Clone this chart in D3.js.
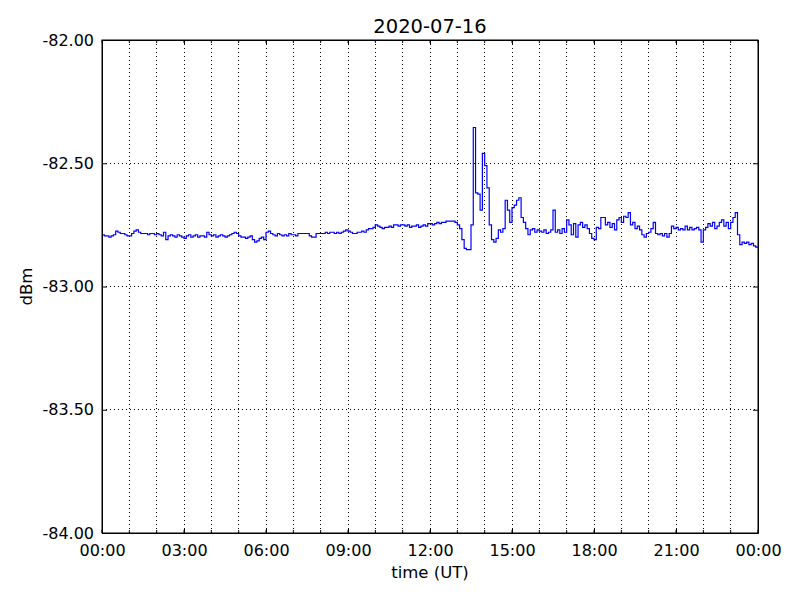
<!DOCTYPE html>
<html>
<head>
<meta charset="utf-8">
<script src="https://cdn.jsdelivr.net/npm/d3@7"></script>
<style>
  body { margin: 0; background: #fff; }
  text { font-family: "DejaVu Sans", sans-serif; fill: #000; }
</style>
</head>
<body>
<div id="chart-area"></div>
<script>
// signal level, one value every 5 minutes, 2020-07-16
const day = "2020-07-16"
const stepMinutes = 5
const dbm = [
  -82.79,-82.795,-82.795,-82.80,-82.795,-82.79,-82.775,-82.78,-82.785,-82.785,-82.79,-82.795,
  -82.795,-82.785,-82.775,-82.77,-82.78,-82.785,-82.785,-82.785,-82.79,-82.785,-82.785,-82.79,
  -82.785,-82.79,-82.795,-82.78,-82.81,-82.795,-82.79,-82.795,-82.80,-82.79,-82.795,-82.80,
  -82.805,-82.795,-82.79,-82.80,-82.795,-82.79,-82.80,-82.795,-82.795,-82.80,-82.78,-82.79,
  -82.795,-82.79,-82.80,-82.795,-82.79,-82.795,-82.80,-82.795,-82.79,-82.785,-82.78,-82.785,
  -82.795,-82.80,-82.80,-82.805,-82.80,-82.795,-82.81,-82.82,-82.815,-82.805,-82.80,-82.81,
  -82.78,-82.775,-82.785,-82.79,-82.795,-82.785,-82.79,-82.795,-82.79,-82.795,-82.785,-82.79,
  -82.79,-82.795,-82.785,-82.785,-82.785,-82.785,-82.785,-82.795,-82.80,-82.80,-82.785,-82.785,
  -82.785,-82.785,-82.78,-82.785,-82.78,-82.78,-82.785,-82.78,-82.785,-82.78,-82.775,-82.77,
  -82.775,-82.78,-82.785,-82.785,-82.78,-82.78,-82.775,-82.78,-82.77,-82.765,-82.765,-82.76,
  -82.75,-82.755,-82.76,-82.765,-82.76,-82.76,-82.755,-82.76,-82.75,-82.75,-82.755,-82.75,
  -82.75,-82.755,-82.75,-82.76,-82.755,-82.755,-82.75,-82.76,-82.755,-82.75,-82.755,-82.745,
  -82.745,-82.75,-82.745,-82.74,-82.745,-82.74,-82.74,-82.735,-82.735,-82.735,-82.735,-82.74,
  -82.75,-82.765,-82.81,-82.845,-82.85,-82.85,-82.75,-82.355,-82.62,-82.625,-82.69,-82.46,
  -82.51,-82.60,-82.75,-82.81,-82.82,-82.805,-82.77,-82.78,-82.765,-82.65,-82.69,-82.74,
  -82.68,-82.67,-82.65,-82.64,-82.72,-82.74,-82.765,-82.79,-82.77,-82.765,-82.78,-82.77,
  -82.775,-82.78,-82.77,-82.785,-82.78,-82.77,-82.69,-82.78,-82.77,-82.785,-82.765,-82.78,
  -82.73,-82.75,-82.79,-82.745,-82.80,-82.75,-82.74,-82.76,-82.75,-82.765,-82.785,-82.805,
  -82.81,-82.76,-82.765,-82.72,-82.72,-82.75,-82.74,-82.76,-82.745,-82.77,-82.73,-82.72,
  -82.74,-82.715,-82.72,-82.70,-82.75,-82.74,-82.765,-82.755,-82.77,-82.79,-82.80,-82.785,
  -82.78,-82.765,-82.74,-82.785,-82.79,-82.785,-82.795,-82.785,-82.80,-82.785,-82.755,-82.765,
  -82.76,-82.77,-82.765,-82.77,-82.755,-82.77,-82.76,-82.77,-82.765,-82.76,-82.77,-82.82,
  -82.77,-82.76,-82.745,-82.755,-82.74,-82.765,-82.755,-82.74,-82.73,-82.755,-82.74,-82.765,
  -82.74,-82.72,-82.70,-82.79,-82.83,-82.82,-82.825,-82.82,-82.83,-82.825,-82.835,-82.84
]
const yTicks = [-84, -83.5, -83, -82.5, -82]

const width = 800, height = 600
const margin = { top: 40, right: 42, bottom: 67, left: 102 }

const start = new Date(day + "T00:00:00Z")
const end = new Date(start.getTime() + 24 * 3600 * 1000)
const points = dbm.map((v, i) => ({ t: new Date(start.getTime() + i * stepMinutes * 60000), v: v }))
// hold the last value to midnight
points.push({ t: end, v: dbm[dbm.length - 1] })

const svg = d3.select("#chart-area").append("svg")
	.attr("width", width)
	.attr("height", height)

const x = d3.scaleUtc()
	.domain([start, end])
	.range([margin.left, width - margin.right])

const y = d3.scaleLinear()
	.domain([-84, -82])
	.range([height - margin.bottom, margin.top])

const hours = d3.utcHour.every(1).range(start, new Date(end.getTime() + 1))
const majorHours = d3.utcHour.every(3).range(start, new Date(end.getTime() + 1))

// dotted grid
svg.append("g").selectAll("line")
	.data(hours.slice(1, -1))
	.enter().append("line")
	.attr("x1", d => x(d)).attr("x2", d => x(d))
	.attr("y1", margin.top).attr("y2", height - margin.bottom)
	.attr("stroke", "#000").attr("stroke-width", 1)
	.attr("stroke-dasharray", "1,3")
	.attr("shape-rendering", "crispEdges")

svg.append("g").selectAll("line")
	.data(yTicks.slice(1, -1))
	.enter().append("line")
	.attr("x1", margin.left).attr("x2", width - margin.right)
	.attr("y1", d => y(d)).attr("y2", d => y(d))
	.attr("stroke", "#000").attr("stroke-width", 1)
	.attr("stroke-dasharray", "1,3")
	.attr("shape-rendering", "crispEdges")

// data line
const line = d3.line()
	.x(d => x(d.t))
	.y(d => y(d.v))
	.curve(d3.curveStepAfter)

svg.append("path")
	.datum(points)
	.attr("fill", "none")
	.attr("stroke", "#0000ff")
	.attr("stroke-width", 1.2)
	.attr("d", line)

// axes, ticks pointing inward
const fmt = d3.utcFormat("%H:%M")
// plain hyphen like the original, not the unicode minus
const yFmt = d => d.toFixed(2)

const xBottom = svg.append("g")
	.attr("transform", `translate(0,${height - margin.bottom})`)
	.call(d3.axisBottom(x).tickValues(majorHours).tickFormat(fmt).tickSizeInner(-5).tickSizeOuter(0).tickPadding(12))
xBottom.append("g").selectAll("line")
	.data(hours)
	.enter().append("line")
	.attr("x1", d => x(d)).attr("x2", d => x(d))
	.attr("y1", 0).attr("y2", -3)
	.attr("stroke", "#000")

const xTop = svg.append("g")
	.attr("transform", `translate(0,${margin.top})`)
	.call(d3.axisTop(x).tickValues(majorHours).tickFormat("").tickSizeInner(-5).tickSizeOuter(0))
xTop.append("g").selectAll("line")
	.data(hours)
	.enter().append("line")
	.attr("x1", d => x(d)).attr("x2", d => x(d))
	.attr("y1", 0).attr("y2", 3)
	.attr("stroke", "#000")

svg.append("g")
	.attr("transform", `translate(${margin.left},0)`)
	.call(d3.axisLeft(y).tickValues(yTicks).tickFormat(yFmt).tickSizeInner(-5).tickSizeOuter(0).tickPadding(8))

svg.append("g")
	.attr("transform", `translate(${width - margin.right},0)`)
	.call(d3.axisRight(y).tickValues(yTicks).tickFormat("").tickSizeInner(-5).tickSizeOuter(0))

svg.selectAll(".tick text")
	.style("font-size", "16px")
	.style("font-family", "DejaVu Sans")
svg.selectAll(".domain").attr("stroke", "#000").attr("stroke-width", 1)

// frame
svg.append("rect")
	.attr("x", margin.left).attr("y", margin.top)
	.attr("width", width - margin.left - margin.right)
	.attr("height", height - margin.top - margin.bottom)
	.attr("fill", "none").attr("stroke", "#000").attr("stroke-width", 1)

// title and labels
svg.append("text")
	.attr("x", (margin.left + width - margin.right) / 2)
	.attr("y", 33)
	.attr("text-anchor", "middle")
	.style("font-size", "19.5px")
	.text(day)

svg.append("text")
	.attr("x", (margin.left + width - margin.right) / 2)
	.attr("y", 578)
	.attr("text-anchor", "middle")
	.style("font-size", "16.5px")
	.text("time (UT)")

svg.append("text")
	.attr("transform", `translate(32,${(margin.top + height - margin.bottom) / 2}) rotate(-90)`)
	.attr("text-anchor", "middle")
	.style("font-size", "16.5px")
	.text("dBm")
</script>
</body>
</html>
